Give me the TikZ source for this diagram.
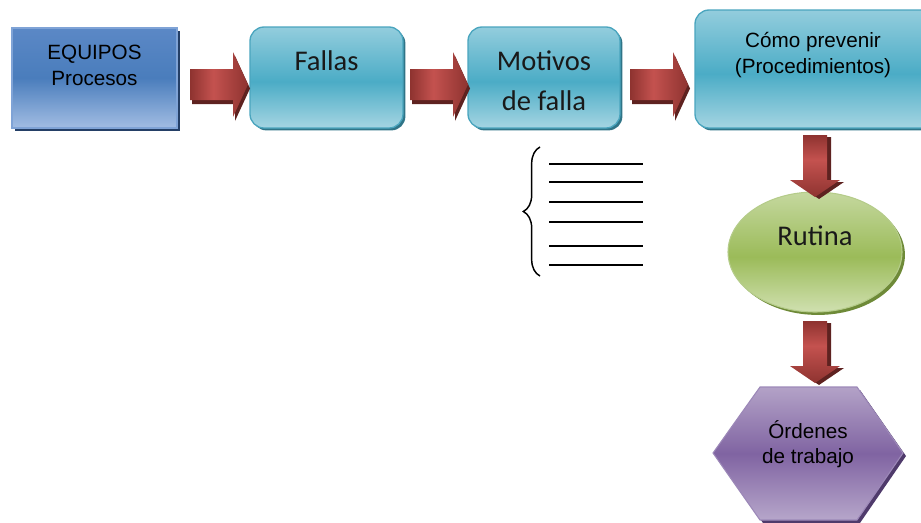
\documentclass[tikz,border=0pt]{standalone}
\usepackage{fontspec}
\setmainfont{Liberation Sans}
\newfontfamily\calfont{Carlito}
\usetikzlibrary{shapes.geometric,shadows,decorations.pathreplacing}
\definecolor{bluetop}{HTML}{5B88C6}
\definecolor{bluemid}{HTML}{4A7DBC}
\definecolor{bluebot}{HTML}{A2BDE3}
\definecolor{blueedge}{HTML}{7FA3D6}
\definecolor{blueshadow}{HTML}{243F66}
\definecolor{tealtop}{HTML}{93CDDD}
\definecolor{tealmid}{HTML}{4BACC6}
\definecolor{tealbot}{HTML}{A5D5E2}
\definecolor{tealedge}{HTML}{4AA5BE}
\definecolor{tealshadow}{HTML}{2F7487}
\definecolor{redlight}{HTML}{C4524F}
\definecolor{reddark}{HTML}{8E3330}
\definecolor{redshadow}{HTML}{5E2220}
\definecolor{greentop}{HTML}{C5D89F}
\definecolor{greenmid}{HTML}{9BBB59}
\definecolor{greenbot}{HTML}{D0E0B0}
\definecolor{greenedge}{HTML}{B5CC8A}
\definecolor{greenshadow}{HTML}{6E8A38}
\definecolor{purptop}{HTML}{B3A2C7}
\definecolor{purpmid}{HTML}{8064A2}
\definecolor{purpbot}{HTML}{B6A6CA}
\definecolor{purpedge}{HTML}{9C88B8}
\definecolor{purpshadow}{HTML}{4F3A6B}
\pgfdeclareverticalshading{bluesh}{100bp}{color(0bp)=(bluebot); color(25bp)=(bluebot); color(50bp)=(bluemid); color(75bp)=(bluetop); color(100bp)=(bluetop)}
\pgfdeclareverticalshading{tealsh}{100bp}{color(0bp)=(tealbot); color(25bp)=(tealbot); color(48bp)=(tealmid); color(75bp)=(tealtop); color(100bp)=(tealtop)}
\pgfdeclareverticalshading{greensh}{100bp}{color(0bp)=(greenbot); color(25bp)=(greenbot); color(48bp)=(greenmid); color(75bp)=(greentop); color(100bp)=(greentop)}
\pgfdeclareverticalshading{purpsh}{100bp}{color(0bp)=(purpbot); color(25bp)=(purpbot); color(50bp)=(purpmid); color(75bp)=(purptop); color(100bp)=(purptop)}
\pgfdeclarehorizontalshading{redh}{100bp}{color(0bp)=(reddark); color(25bp)=(reddark); color(45bp)=(redlight); color(75bp)=(reddark); color(100bp)=(reddark)}
\pgfdeclareverticalshading{redv}{100bp}{color(0bp)=(reddark); color(25bp)=(reddark); color(55bp)=(redlight); color(75bp)=(reddark); color(100bp)=(reddark)}
\tikzset{
  bluebox/.style={rectangle, draw=blueedge, line width=1.3pt, shade, shading=bluesh,
    drop shadow={shadow xshift=2.5pt, shadow yshift=-2.5pt, fill=blueshadow, opacity=1}},
  tealbox/.style={rectangle, rounded corners=10.5pt, draw=tealedge, line width=1pt, shade, shading=tealsh,
    drop shadow={shadow xshift=1.8pt, shadow yshift=-1.8pt, fill=tealshadow, opacity=1}},
  greenell/.style={ellipse, draw=greenedge, line width=0.8pt, shade, shading=greensh,
    drop shadow={shadow xshift=2.2pt, shadow yshift=-2.2pt, fill=greenshadow, opacity=1}},
  arialtxt/.style={anchor=base, inner sep=0pt, text=black, font=\fontsize{15.5}{18}\selectfont},
  calitxt/.style={anchor=base, inner sep=0pt, text=black!90, font=\calfont\fontsize{21.4}{25}\selectfont},
  listline/.style={line width=1.5pt, black},
  harrow/.pic={
    \fill[redshadow] (-56,-11.5) -- (-13,-11.5) -- (-13,-28.5) -- (2,4) -- (-13,36.5) -- (-13,19.5) -- (-56,19.5) -- cycle;
    \shade[shading=redh]
      (-58,-15.5) -- (-15,-15.5) -- (-15,-32.5) -- (0,0) -- (-15,32.5) -- (-15,15.5) -- (-58,15.5) -- cycle;
  },
  varrow/.pic={
    \fill[redshadow] (-8,-60) -- (16,-60) -- (16,-15) -- (29,-15) -- (4,2) -- (-21,-15) -- (-8,-15) -- cycle;
    \shade[shading=redv]
      (-12,-62) -- (12,-62) -- (12,-17) -- (25,-17) -- (0,0) -- (-25,-17) -- (-12,-17) -- cycle;
  }
}
\begin{document}
\begin{tikzpicture}[x=0.75pt,y=-0.75pt]
\useasboundingbox (0,0) rectangle (921,522);
\clip (0,0) rectangle (921,522);

% boxes
\node[bluebox, minimum width=123.75pt, minimum height=75pt] (eq) at (94.5,78) {};
\node[tealbox, minimum width=114.75pt, minimum height=75.75pt] (fallas) at (326.5,77.5) {};
\node[tealbox, minimum width=114pt, minimum height=75.75pt] (motivos) at (544,77.5) {};
\node[tealbox, minimum width=180pt, minimum height=88.5pt] (como) at (815,69) {};
\node[greenell, minimum width=130.5pt, minimum height=90pt] (rutina) at (815,252) {};

% hexagon
\fill[purpshadow] (716,456) -- (763,390) -- (860,390) -- (906,456) -- (860,523) -- (763,523) -- cycle;
\shade[shading=purpsh, draw=purpedge, line width=0.8pt]
  (713,453) -- (760,387) -- (857,387) -- (903,453) -- (857,520) -- (760,520) -- cycle;
\coordinate (ordenes) at (808,453);

% texts
\node[arialtxt] (eqt1) at (94.5,59) {EQUIPOS};
\node[arialtxt] (eqt2) at (94.5,85) {Procesos};
\node[calitxt] (fallast) at (326.5,70) {Fallas};
\node[calitxt] (mott1) at (544,70) {Motivos};
\node[calitxt] (mott2) at (544,110) {de falla};
\node[arialtxt] (comot1) at (813,47) {Cómo prevenir};
\node[arialtxt] (comot2) at (813,73) {(Procedimientos)};
\node[calitxt] (rutinat) at (815,245) {Rutina};
\node[arialtxt] (ordt1) at (808,438) {Órdenes};
\node[arialtxt] (ordt2) at (808,463) {de trabajo};

% block arrows
\pic at (248,84.5) {harrow};
\pic at (468,84.5) {harrow};
\pic at (688,84.5) {harrow};
\pic at (815,197) {varrow};
\pic at (815,383) {varrow};

% brace and lines
\draw[decorate, decoration={brace, amplitude=12.5pt}, line width=1.1pt]
  (540,276) -- (540,147);
\foreach \yy in {164,182,202,222,246,265}
  \draw[listline] (549,\yy) -- (643,\yy);
\end{tikzpicture}
\end{document}
